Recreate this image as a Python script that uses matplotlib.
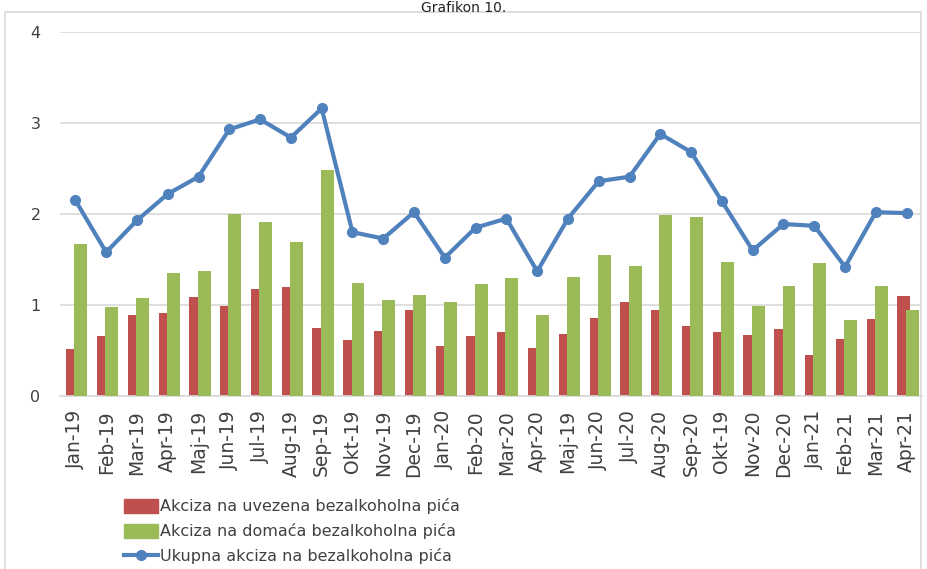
import matplotlib
matplotlib.use("Agg")
import matplotlib.pyplot as plt
import numpy as np
from matplotlib.patches import Rectangle, Patch
from matplotlib.lines import Line2D

categories = ["Jan-19", "Feb-19", "Mar-19", "Apr-19", "Maj-19", "Jun-19", "Jul-19",
              "Aug-19", "Sep-19", "Okt-19", "Nov-19", "Dec-19", "Jan-20", "Feb-20",
              "Mar-20", "Apr-20", "Maj-19", "Jun-20", "Jul-20", "Aug-20", "Sep-20",
              "Okt-19", "Nov-20", "Dec-20", "Jan-21", "Feb-21", "Mar-21", "Apr-21"]
uvezena = [0.52, 0.66, 0.89, 0.91, 1.09, 0.99, 1.18, 1.20, 0.75, 0.62, 0.71, 0.95, 0.55, 0.66,
           0.70, 0.53, 0.68, 0.86, 1.03, 0.95, 0.77, 0.70, 0.67, 0.74, 0.45, 0.63, 0.85, 1.10]
domaca = [1.67, 0.98, 1.08, 1.35, 1.37, 2.00, 1.91, 1.69, 2.48, 1.24, 1.05, 1.11, 1.03, 1.23,
          1.30, 0.89, 1.31, 1.55, 1.43, 1.99, 1.97, 1.47, 0.99, 1.21, 1.46, 0.84, 1.21, 0.95]
ukupno = [2.15, 1.58, 1.93, 2.22, 2.41, 2.93, 3.04, 2.84, 3.16, 1.80, 1.73, 2.02, 1.52, 1.85,
          1.95, 1.37, 1.95, 2.36, 2.41, 2.88, 2.68, 2.14, 1.60, 1.89, 1.87, 1.42, 2.02, 2.01]
labels = ["Akciza na uvezena bezalkoholna pića",
          "Akciza na domaća bezalkoholna pića",
          "Ukupna akciza na bezalkoholna pića"]

RED = "#C0504D"
GREEN = "#9BBB59"
BLUE = "#4F81BD"

W, H = 928, 569
fig = plt.figure(figsize=(W / 100, H / 100), dpi=100)
ax = fig.add_axes([60 / W, 1 - 396 / H, (922 - 60) / W, (396 - 32) / H])

x = np.arange(len(categories))
bw = 0.42
ax.bar(x - 0.09, uvezena, width=bw, color=RED, zorder=2)
ax.bar(x + 0.18, domaca, width=bw, color=GREEN, zorder=3)
ax.plot(x, ukupno, color=BLUE, lw=3, marker="o", ms=7, zorder=4)

ax.set_xlim(-0.5, len(categories) - 0.5)
ax.set_ylim(0, 4)
ax.set_yticks([0, 1, 2, 3, 4])
ax.yaxis.grid(True, color="#D9D9D9", lw=1.2, zorder=0)
ax.set_axisbelow(True)
for s in ["left", "right", "top"]:
    ax.spines[s].set_visible(False)
ax.spines["bottom"].set_color("#D9D9D9")
ax.spines["bottom"].set_linewidth(1.2)
ax.tick_params(axis="both", length=0, labelsize=11.5, colors="#404040")
ax.tick_params(axis="y", pad=14)
ax.tick_params(axis="x", pad=10, labelsize=13.5)
ax.set_xticks(x)
ax.set_xticklabels(categories, rotation=90)

handles = [Patch(color=RED), Patch(color=GREEN),
           Line2D([0], [0], color=BLUE, lw=3, marker="o", ms=7)]
fig.legend(handles, labels, loc="upper left", bbox_to_anchor=(110 / W, 1 - 484 / H),
           frameon=False, fontsize=11.5, handlelength=2.1, handleheight=1.0,
           handletextpad=0.1, labelspacing=0.55, labelcolor="#404040")

fig.patches.append(Rectangle((5 / W, -0.05), (921 - 5) / W, (1 - 12 / H) + 0.05,
                             transform=fig.transFigure, fill=False,
                             edgecolor="#D9D9D9", lw=1.2))
fig.text(0.5, 1 - 1 / H, "Grafikon 10.", ha="center", va="top", fontsize=10,
         color="#222222")

fig.savefig("out.png", dpi=100)
